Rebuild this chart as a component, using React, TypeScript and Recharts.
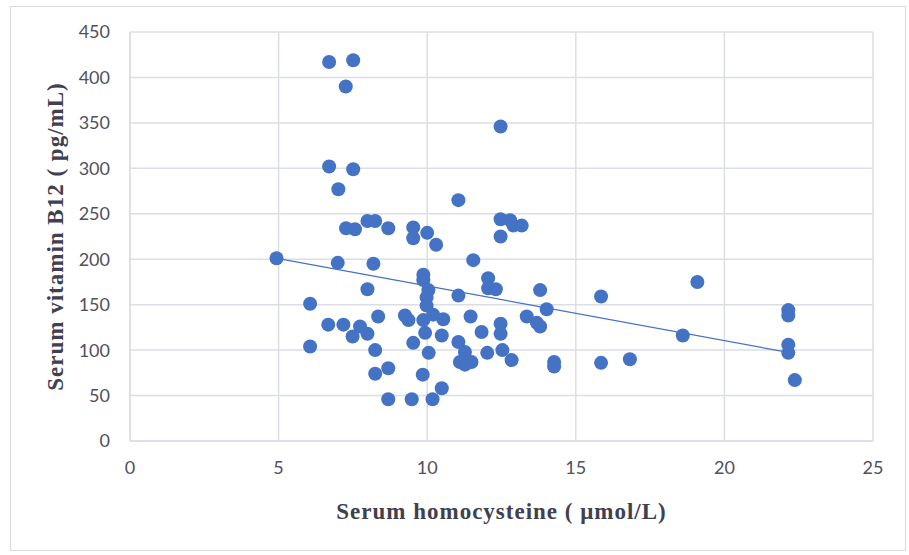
import React from "react";
import {
  CartesianGrid,
  Label,
  ReferenceLine,
  Scatter,
  ScatterChart,
  XAxis,
  YAxis,
} from "recharts";

// serum homocysteine (µmol/L)
const homocysteine = [
  4.93, 6.06, 6.06, 6.7, 7.51, 7.26, 6.7, 7.51, 7.01, 6.99,
  7.27, 7.57, 7.99, 8.25, 8.69, 8.19, 7.99, 8.35, 6.67, 7.18,
  7.74, 7.49, 7.99, 8.25, 8.25, 8.69, 8.69, 9.25, 9.37, 9.48,
  9.53, 9.53, 10.0, 10.3, 9.53, 9.87, 9.87, 10.04, 9.98, 9.98,
  9.87, 10.2, 10.54, 9.93, 10.49, 10.05, 9.85, 10.18, 10.49, 11.05,
  11.05, 11.05, 11.1, 11.27, 11.27, 11.49, 11.46, 11.55, 11.83, 12.05,
  12.05, 12.31, 12.02, 12.47, 12.47, 12.79, 12.9, 13.18, 12.47, 12.47,
  12.47, 12.53, 12.84, 13.8, 14.02, 13.35, 13.69, 13.8, 14.27, 14.27,
  15.85, 15.85, 16.82, 18.6, 19.09, 22.15, 22.15, 22.15, 22.15, 22.37,
];

// serum vitamin B12 (pg/mL)
const vitaminB12 = [
  201, 151, 104, 417, 419, 390, 302, 299, 277, 196,
  234, 233, 242, 242, 234, 195, 167, 137, 128, 128,
  126, 115, 118, 100, 74, 80, 46, 138, 133, 46,
  235, 223, 229, 216, 108, 183, 177, 166, 158, 149,
  133, 139, 134, 119, 116, 97, 73, 46, 58, 265,
  160, 109, 87, 98, 84, 87, 137, 199, 120, 179,
  168, 167, 97, 346, 244, 243, 237, 237, 225, 129,
  118, 100, 89, 166, 145, 137, 130, 126, 87, 82,
  159, 86, 90, 116, 175, 144, 138, 106, 97, 67,
];

// linear trend line end points
const trendX = [4.95, 22.15];
const trendY = [201, 97.5];

const xTicks = [0, 5, 10, 15, 20, 25];
const yTicks = [0, 50, 100, 150, 200, 250, 300, 350, 400, 450];

const points = homocysteine.map((x, i) => ({ x, y: vitaminB12[i] }));

const blue = "#4472C4";
const gridColor = "#dcdee6";
const tickStyle = { fill: "#50505e", fontSize: 18, fontFamily: "Lato, sans-serif" };
const titleStyle = {
  fill: "#40404f",
  fontSize: 23,
  fontWeight: "bold",
  letterSpacing: 1,
  fontFamily: "'Liberation Serif', 'Times New Roman', serif",
};

const Dot = (props: any) => (
  <circle cx={props.cx} cy={props.cy} r={7} fill={blue} />
);

export default function App() {
  return (
    <div style={{ position: "relative", width: 909, height: 555, background: "#fff" }}>
      <style>{"body{margin:0}"}</style>
      <div
        style={{
          position: "absolute",
          left: 10,
          top: 6,
          width: 894,
          height: 543,
          border: "1px solid #d9d9d9",
        }}
      />
      <ScatterChart
        width={909}
        height={555}
        margin={{ top: 32, right: 36, bottom: 54, left: 0 }}
        style={{ position: "absolute", left: 0, top: 0 }}
      >
        <CartesianGrid stroke={gridColor} strokeWidth={1.5} />
        <XAxis
          type="number"
          dataKey="x"
          domain={[0, 25]}
          ticks={xTicks}
          height={60}
          tickSize={0}
          tickMargin={20}
          tickLine={false}
          axisLine={{ stroke: gridColor, strokeWidth: 1.5 }}
          tick={tickStyle}
        >
          <Label
            value="Serum homocysteine  ( μmol/L)"
            position="insideBottom"
            offset={-18}
            style={titleStyle}
          />
        </XAxis>
        <YAxis
          type="number"
          dataKey="y"
          domain={[0, 450]}
          ticks={yTicks}
          width={130}
          tickSize={0}
          tickMargin={20}
          tickLine={false}
          axisLine={{ stroke: gridColor, strokeWidth: 1.5 }}
          tick={tickStyle}
        >
          <Label
            value="Serum vitamin B12 ( pg/mL)"
            angle={-90}
            position="insideLeft"
            offset={55}
            style={{ ...titleStyle, textAnchor: "middle" }}
          />
        </YAxis>
        <ReferenceLine
          segment={[
            { x: trendX[0], y: trendY[0] },
            { x: trendX[1], y: trendY[1] },
          ]}
          stroke={blue}
          strokeWidth={1.2}
        />
        <Scatter data={points} shape={Dot} isAnimationActive={false} />
      </ScatterChart>
    </div>
  );
}
